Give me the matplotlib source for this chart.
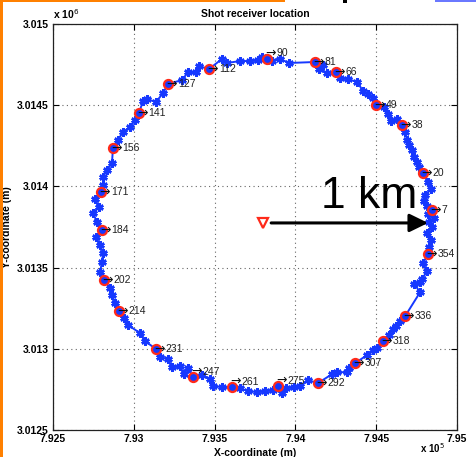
import matplotlib
matplotlib.use('Agg')
import matplotlib.pyplot as plt
from matplotlib.patches import Rectangle
from matplotlib.ticker import FixedLocator, FuncFormatter

plt.rcParams['font.family'] = ['Liberation Sans', 'DejaVu Sans']

# receiver positions (UTM easting / northing, m), going round from the 7 deg receiver
east = [794846, 794815, 794797, 794803, 794840, 794821, 794790, 794766, 794753, 794735,
        794722, 794704, 794691, 794679, 794660, 794629, 794592, 794574, 794549, 794499,
        794481, 794450, 794419, 794382, 794326, 794277, 794252, 794196, 794147, 794171,
        794122, 793961, 793905, 793856, 793825, 793794, 793769, 793720, 793658, 793577,
        793546, 793466, 793404, 793385, 793336, 793299, 793212, 793181, 793138, 793082,
        793057, 793032, 793008, 792977, 792933, 792902, 792871, 792865, 792834, 792810,
        792810, 792797, 792760, 792785, 792748, 792772, 792803, 792766, 792791, 792810,
        792803, 792791, 792816, 792853, 792865, 792884, 792909, 792940, 792964, 793039,
        793070, 793138, 793162, 793212, 793237, 793286, 793311, 793336, 793367, 793422,
        793472, 793490, 793546, 793608, 793658, 793707, 793763, 793812, 793862, 793893,
        793918, 793942, 793992, 794029, 794079, 794140, 794227, 794258, 794320, 794332,
        794369, 794444, 794481, 794506, 794543, 794580, 794605, 794623, 794648, 794679,
        794772, 794735, 794772, 794784, 794815, 794790, 794821, 794828, 794840, 794815,
        794846, 794828, 794858, 794821, 794846]
north = [3013854, 3013879, 3013910, 3013947, 3013984, 3014027, 3014082, 3014119, 3014150, 3014181,
         3014224, 3014255, 3014286, 3014335, 3014378, 3014415, 3014403, 3014446, 3014489, 3014501,
         3014544, 3014569, 3014587, 3014643, 3014661, 3014668, 3014704, 3014698, 3014723, 3014748,
         3014766, 3014760, 3014785, 3014772, 3014785, 3014797, 3014778, 3014772, 3014772, 3014760,
         3014785, 3014723, 3014741, 3014704, 3014704, 3014655, 3014631, 3014575, 3014520, 3014538,
         3014526, 3014452, 3014409, 3014366, 3014335, 3014286, 3014236, 3014144, 3014101, 3014058,
         3014008, 3013965, 3013922, 3013873, 3013836, 3013780, 3013731, 3013688, 3013639, 3013590,
         3013534, 3013472, 3013423, 3013374, 3013331, 3013282, 3013232, 3013189, 3013146, 3013097,
         3013047, 3012998, 3012949, 3012937, 3012887, 3012893, 3012844, 3012881, 3012826, 3012838,
         3012813, 3012770, 3012764, 3012764, 3012758, 3012739, 3012733, 3012739, 3012746, 3012770,
         3012727, 3012758, 3012764, 3012770, 3012807, 3012789, 3012844, 3012856, 3012856, 3012881,
         3012912, 3012961, 3012992, 3013004, 3013047, 3013084, 3013121, 3013140, 3013171, 3013201,
         3013349, 3013399, 3013411, 3013429, 3013479, 3013528, 3013583, 3013626, 3013670, 3013713,
         3013750, 3013780, 3013805, 3013830, 3013854]

# index into the receiver list of each labelled receiver, and its azimuth
label_idx = [0, 6, 14, 19, 26, 30, 34, 41, 46, 51, 56, 61, 66, 72, 76, 81, 88, 93, 99,
             105, 110, 114, 119, 126]
label_az = [7, 20, 38, 49, 66, 81, 90, 112, 127, 141, 156, 171, 184, 202, 214, 231, 247,
            261, 275, 292, 307, 318, 336, 354]
raised = [90, 247, 261, 275]

shot_x, shot_y = 793800, 3013775
scale_end = 794821
scale_text = '1 km'

xticks = [792500, 793000, 793500, 794000, 794500, 795000]
yticks = [3012500, 3013000, 3013500, 3014000, 3014500, 3015000]

fig = plt.figure(figsize=(4.77, 4.57), dpi=100)
ax = fig.add_axes([53 / 477, 1 - 430 / 457, 404 / 477, 406 / 457])

ax.plot(east, north, '-', color='#1638ff', lw=1.4, marker=(6, 2, 0), ms=6, mew=1.8, zorder=3)
lx = [east[i] for i in label_idx]
ly = [north[i] for i in label_idx]
ax.plot(lx, ly, 'o', ms=6.5, mec='#ff2a1a', mfc='#1638ff', mew=1.6, zorder=4)
for x, y, az in zip(lx, ly, label_az):
    dy = 4 if az in raised else 0
    ax.annotate('\u2192', (x, y), xytext=(-1, dy), textcoords='offset points',
                fontsize=9, color='#111111', family=['DejaVu Sans'],
                ha='left', va='center', zorder=5)
    ax.annotate(str(az), (x, y), xytext=(7, dy), textcoords='offset points',
                fontsize=7.5, color='#222222', ha='left', va='center', zorder=5)

ax.plot(shot_x, shot_y, 'v', ms=6.5, mfc='white', mec='#ff2a1a', mew=1.6, zorder=4)
ax.annotate('', xy=(scale_end, shot_y), xytext=(shot_x + 50, shot_y),
            arrowprops=dict(arrowstyle='-|>,head_length=0.45,head_width=0.22',
                            lw=2.2, color='k', mutation_scale=25, shrinkA=0, shrinkB=0),
            zorder=6)
ax.text(794160, 3013867, scale_text, fontsize=32, ha='left', va='baseline', color='k')

ax.set_xlim(792500, 795000)
ax.set_ylim(3012500, 3015000)
ax.xaxis.set_major_locator(FixedLocator(xticks))
ax.yaxis.set_major_locator(FixedLocator(yticks))
ax.xaxis.set_major_formatter(FuncFormatter(lambda v, p: '%g' % (v / 1e5)))
ax.yaxis.set_major_formatter(FuncFormatter(lambda v, p: '%g' % (v / 1e6)))
ax.tick_params(direction='in', length=4, width=0.8, top=True, right=True,
               labelsize=7.5, pad=3)
for lab in ax.get_xticklabels() + ax.get_yticklabels():
    lab.set_fontweight('bold')
ax.grid(True, linestyle=(0, (1, 3)), color='#666666', lw=0.8)
for s in ax.spines.values():
    s.set_linewidth(0.9)
    s.set_color('#222222')

ax.set_title('Shot receiver location', fontsize=7.5, fontweight='bold', pad=5)
ax.set_xlabel('X-coordinate (m)', fontsize=7.5, fontweight='bold', labelpad=3)
ax.set_ylabel('Y-coordinate (m)', fontsize=7.5, fontweight='bold', labelpad=4)
fig.text(53 / 477, 1 - 19 / 457, 'x 10$^{6}$', fontsize=7.5, fontweight='bold',
         ha='left', va='baseline')
fig.text(445 / 477, 1 - 455 / 457, 'x 10$^{5}$', fontsize=7, fontweight='bold',
         ha='right', va='bottom')

# screenshot frame remnants
fig.add_artist(Rectangle((0, 0), 3 / 477, 1, transform=fig.transFigure, color='#ff8000', lw=0))
fig.add_artist(Rectangle((0, 1 - 2 / 457), 285 / 477, 2 / 457, transform=fig.transFigure,
                         color='#ff8000', lw=0))
fig.add_artist(Rectangle((343 / 477, 1 - 3 / 457), 4 / 477, 3 / 457, transform=fig.transFigure,
                         color='k', lw=0))
fig.add_artist(Rectangle((435 / 477, 1 - 2 / 457), 42 / 477, 2 / 457, transform=fig.transFigure,
                         color='#6a78ff', lw=0))

fig.savefig('out.png', dpi=100)
